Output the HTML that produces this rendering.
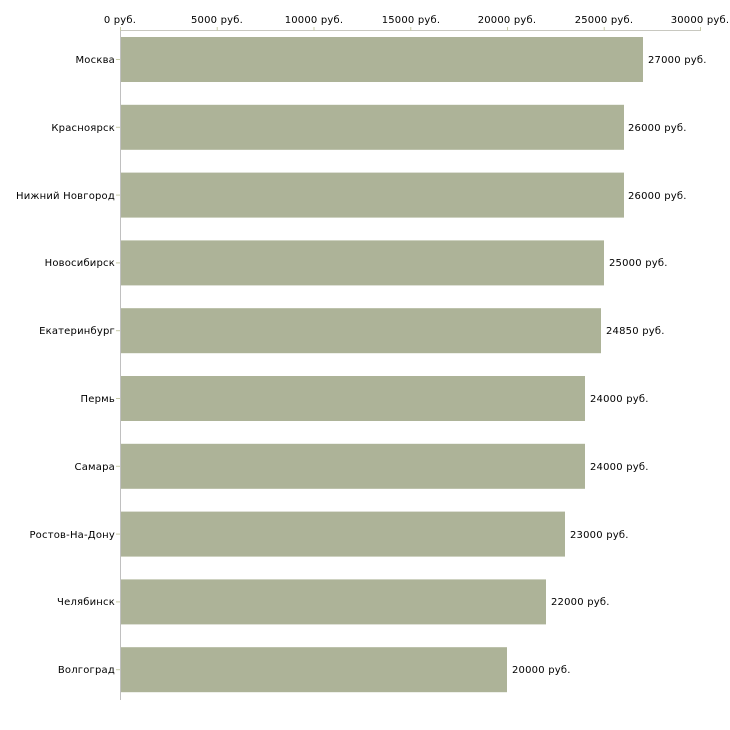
<!DOCTYPE html>
<html><head><meta charset="utf-8"><style>
html,body{margin:0;padding:0;background:#fff;width:730px;height:730px;overflow:hidden}
svg text{font-family:"DejaVu Sans","Liberation Sans",sans-serif;font-size:10px;fill:#000;letter-spacing:0.2px}
</style></head><body>
<svg width="730" height="730" xmlns="http://www.w3.org/2000/svg">
<line x1="120" y1="30.5" x2="701" y2="30.5" stroke="#c8c8c0" stroke-width="1"/>
<line x1="120.5" y1="30" x2="120.5" y2="700" stroke="#c0c0c0" stroke-width="1"/>
<g stroke="#c8cca8" stroke-width="1">
<line x1="120.5" y1="27" x2="120.5" y2="31"/>
<line x1="217.25" y1="27" x2="217.25" y2="31"/>
<line x1="314" y1="27" x2="314" y2="31"/>
<line x1="410.75" y1="27" x2="410.75" y2="31"/>
<line x1="507.5" y1="27" x2="507.5" y2="31"/>
<line x1="604.25" y1="27" x2="604.25" y2="31"/>
<line x1="700.5" y1="27" x2="700.5" y2="31"/>
</g>
<g text-anchor="middle">
<text x="120" y="23">0 руб.</text>
<text x="217" y="23">5000 руб.</text>
<text x="314" y="23">10000 руб.</text>
<text x="411" y="23">15000 руб.</text>
<text x="507" y="23">20000 руб.</text>
<text x="604" y="23">25000 руб.</text>
<text x="700" y="23">30000 руб.</text>
</g>
<g fill="#adb398">
<rect x="121" y="37" width="522" height="45"/>
<rect x="121" y="104.8" width="503" height="45"/>
<rect x="121" y="172.6" width="503" height="45"/>
<rect x="121" y="240.4" width="483" height="45"/>
<rect x="121" y="308.2" width="480" height="45"/>
<rect x="121" y="376" width="464" height="45"/>
<rect x="121" y="443.8" width="464" height="45"/>
<rect x="121" y="511.6" width="444" height="45"/>
<rect x="121" y="579.4" width="425" height="45"/>
<rect x="121" y="647.2" width="386" height="45"/>
</g>
<g stroke="#c8cca8"><line x1="116" y1="59.5" x2="120" y2="59.5"/><line x1="116" y1="127.3" x2="120" y2="127.3"/><line x1="116" y1="195.1" x2="120" y2="195.1"/><line x1="116" y1="262.9" x2="120" y2="262.9"/><line x1="116" y1="330.7" x2="120" y2="330.7"/><line x1="116" y1="398.5" x2="120" y2="398.5"/><line x1="116" y1="466.3" x2="120" y2="466.3"/><line x1="116" y1="534.1" x2="120" y2="534.1"/><line x1="116" y1="601.9" x2="120" y2="601.9"/><line x1="116" y1="669.7" x2="120" y2="669.7"/></g>
<g text-anchor="end">
<text x="115" y="63">Москва</text>
<text x="115" y="131">Красноярск</text>
<text x="115" y="199">Нижний Новгород</text>
<text x="115" y="266">Новосибирск</text>
<text x="115" y="334">Екатеринбург</text>
<text x="115" y="402">Пермь</text>
<text x="115" y="470">Самара</text>
<text x="115" y="538">Ростов-На-Дону</text>
<text x="115" y="605">Челябинск</text>
<text x="115" y="673">Волгоград</text>
</g>
<text x="648" y="63">27000 руб.</text>
<text x="628" y="131">26000 руб.</text>
<text x="628" y="199">26000 руб.</text>
<text x="609" y="266">25000 руб.</text>
<text x="606" y="334">24850 руб.</text>
<text x="590" y="402">24000 руб.</text>
<text x="590" y="470">24000 руб.</text>
<text x="570" y="538">23000 руб.</text>
<text x="551" y="605">22000 руб.</text>
<text x="512" y="673">20000 руб.</text>
</svg>
</body></html>
